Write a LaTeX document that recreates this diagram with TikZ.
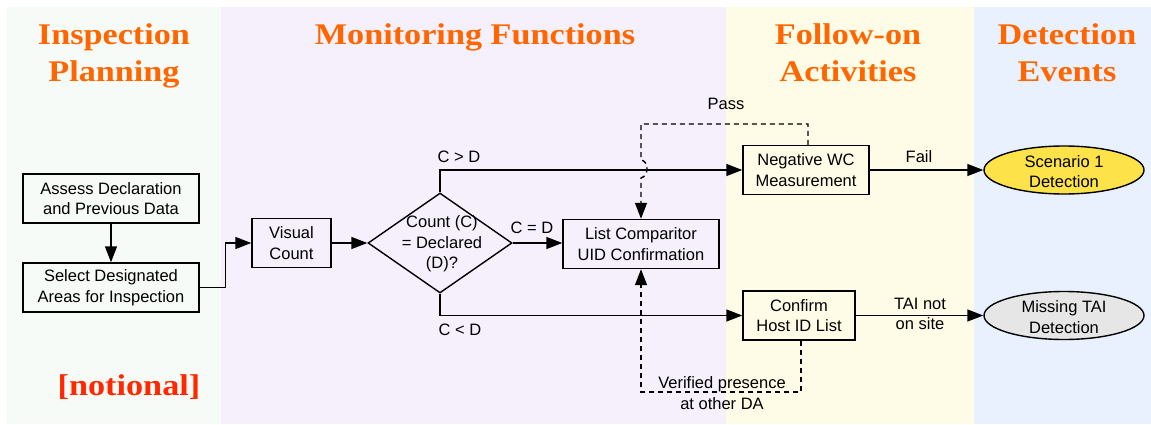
\documentclass[tikz,border=0pt]{standalone}
\usepackage{fontspec}
\setmainfont{Liberation Sans}
\newfontfamily\titlefont[FakeStretch=1.14]{Liberation Serif}
\usetikzlibrary{arrows.meta,shapes.geometric}
\definecolor{titleorange}{RGB}{255,102,0}
\definecolor{notered}{RGB}{255,40,0}
\definecolor{panelA}{RGB}{247,251,247}
\definecolor{panelB}{RGB}{245,240,251}
\definecolor{panelC}{RGB}{254,252,230}
\definecolor{panelD}{RGB}{233,240,254}
\definecolor{scenyellow}{RGB}{253,226,74}
\definecolor{missgray}{RGB}{230,230,230}
\begin{document}
\begin{tikzpicture}[x=1pt,y=-1pt,
  txt/.style={font=\fontsize{16.5}{20.5}\selectfont, align=center, inner sep=0pt},
  box/.style={draw, line width=1.4pt, inner sep=0pt, minimum height=49pt, txt},
  ell/.style={draw, line width=1.4pt, ellipse, inner sep=0pt, minimum width=160pt, minimum height=48pt},
  ttl/.style={font=\titlefont\bfseries\fontsize{30}{37}\selectfont, text=titleorange, anchor=base, inner sep=0pt},
  arr/.style={line width=1.4pt, -{Triangle[length=16pt,width=12pt]}},
  dsh/.style={line width=1.4pt, dash pattern=on 5pt off 4pt},
  lbl/.style={txt}]
\useasboundingbox (0,0) rectangle (1151,425);
\fill[white] (0,0) rectangle (1151,425);
% panels
\fill[panelA] (7,7) rectangle (221,424);
\fill[panelB] (221,7) rectangle (726,424);
\fill[panelC] (726,7) rectangle (974,424);
\fill[panelD] (974,7) rectangle (1151,424);
% titles
\node[ttl] (t1a) at (114,45) {Inspection};
\node[ttl] (t1b) at (114,82) {Planning};
\node[ttl] (t2a) at (475,45) {Monitoring Functions};
\node[ttl] (t3a) at (848,45) {Follow-on};
\node[ttl] (t3b) at (848,82) {Activities};
\node[ttl] (t4a) at (1067,45) {Detection};
\node[ttl] (t4b) at (1067,82) {Events};
\node[ttl, text=notered] (notional) at (129,395) {[notional]};
% nodes
\node[box, minimum width=176pt] (assess) at (111,198.5) {Assess Declaration\\and Previous Data};
\node[box, minimum width=176pt] (select) at (111,287.5) {Select Designated\\Areas for Inspection};
\node[box, minimum width=79pt] (visual) at (291.5,243) {Visual\\Count};
\node[draw, line width=1.4pt, diamond, inner sep=0pt, minimum width=144pt, minimum height=100pt] (dia) at (440,243) {};
\node[txt] (diatext) at (442,244) {Count (C)\\= Declared\\(D)?};
\node[box, minimum width=156pt] (list) at (641,244) {List Comparitor\\UID Confirmation};
\node[box, minimum width=126pt] (neg) at (806,170) {Negative WC\\Measurement};
\node[box, minimum width=112pt] (conf) at (799,315.5) {Confirm\\Host ID List};
\node[ell, fill=scenyellow] (scen) at (1064,170) {};
\node[txt] (scentext) at (1064,171.5) {Scenario 1\\Detection};
\node[ell, fill=missgray] (miss) at (1064,315.5) {};
\node[txt] (misstext) at (1064,317) {Missing TAI\\Detection};
% connectors
\draw[arr] (assess) -- (select);
\draw[arr] (select.east) -- ++(26,0) |- (visual.west);
\draw[arr] (visual.east) -- (dia.west);
\draw[arr] (dia.north) |- (neg.west);
\draw[arr] (dia.east) -- (dia.east -| list.west);
\draw[arr] (dia.south) |- (conf.west);
\draw[arr] (neg.east) -- (scen.west);
\draw[arr] (conf.east) -- (miss.west);
% dashed feedback paths
\coordinate (passtop) at (641,124);
\coordinate (hopA) at (641,160);
\coordinate (hopB) at (641,178);
\coordinate (vbot) at (641,392);
\draw[dsh, arr] ([xshift=2pt]neg.north) |- (passtop) -- (hopA)
  .. controls (649,161) and (649,176) .. (hopB) -- (list.north);
\draw[dsh, arr] ([xshift=2pt]conf.south) |- (vbot) -- (list.south);
% labels
\node[lbl] (lgt) at (459,157) {C > D};
\node[lbl] (leq) at (532,228) {C = D};
\node[lbl] (llt) at (460,330) {C < D};
\node[lbl] (lpass) at (726,104) {Pass};
\node[lbl] (lfail) at (919,157) {Fail};
\node[lbl] (ltai) at (920,314) {TAI not\\on site};
\node[lbl] (lver) at (722,393) {Verified presence\\at other DA};
\end{tikzpicture}
\end{document}
